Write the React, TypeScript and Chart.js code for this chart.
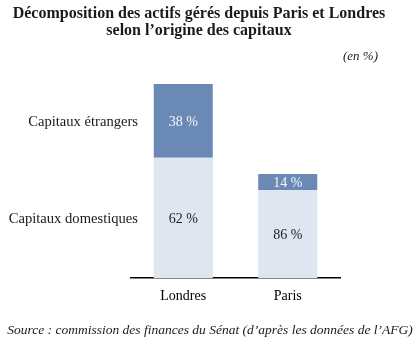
import React, { useEffect, useRef } from "react";
import { Chart, registerables } from "chart.js";

Chart.register(...registerables);

const categories = ["Londres", "Paris"];
// bar heights (relative size of assets, Londres = 100)
const domesticValues = [62, 45.4];
const foreignValues = [38, 8.2];
// shares shown in labels
const domesticLabels = ["62 %", "86 %"];
const foreignLabels = ["38 %", "14 %"];
const seriesNames = ["Capitaux domestiques", "Capitaux étrangers"];
const titleLines = ["Décomposition des actifs gérés depuis Paris et Londres", "selon l’origine des capitaux"];
const unitText = "(en %)";
const sourceText = "Source : commission des finances du Sénat (d’après les données de l’AFG)";

const FONT = "'Liberation Serif', 'DejaVu Serif', serif";

const textPlugin = {
  id: "textPlugin",
  afterDraw(chart: any) {
    const ctx = chart.ctx;
    ctx.save();
    // title
    ctx.fillStyle = "#1a1a1a";
    ctx.textAlign = "center";
    ctx.textBaseline = "middle";
    ctx.font = `bold 16px ${FONT}`;
    ctx.fillText(titleLines[0], 199, 14);
    ctx.fillText(titleLines[1], 199, 31);
    // unit
    ctx.font = `italic 13px ${FONT}`;
    ctx.textAlign = "right";
    ctx.fillText(unitText, 378, 57);
    // source
    ctx.textAlign = "center";
    ctx.font = `italic 13.5px ${FONT}`;
    ctx.fillText(sourceText, 210, 330);

    // segment labels
    const metaDom = chart.getDatasetMeta(0);
    const metaFor = chart.getDatasetMeta(1);
    ctx.font = `14px ${FONT}`;
    ctx.textAlign = "center";
    metaDom.data.forEach((el: any, i: number) => {
      ctx.fillStyle = "#222";
      ctx.fillText(domesticLabels[i], el.x, (el.y + el.base) / 2 + 1);
    });
    metaFor.data.forEach((el: any, i: number) => {
      ctx.fillStyle = "#f2f5fa";
      ctx.fillText(foreignLabels[i], el.x, (el.y + el.base) / 2 + 1);
    });
    // series labels next to first bar
    ctx.fillStyle = "#1a1a1a";
    ctx.textAlign = "right";
    ctx.font = `14.6px ${FONT}`;
    const d0 = metaDom.data[0];
    const f0 = metaFor.data[0];
    ctx.fillText(seriesNames[1], 138, (f0.y + f0.base) / 2 + 1);
    ctx.fillText(seriesNames[0], 138, (d0.y + d0.base) / 2 + 1);
    ctx.restore();
  },
};

export default function App() {
  const ref = useRef<HTMLCanvasElement>(null);
  useEffect(() => {
    if (!ref.current) return;
    const chart = new Chart(ref.current, {
      type: "bar",
      data: {
        labels: categories,
        datasets: [
          {
            label: seriesNames[0],
            data: domesticValues,
            backgroundColor: "#dfe6f0",
            borderWidth: 0,
          },
          {
            label: seriesNames[1],
            data: foreignValues,
            backgroundColor: "#6a8ab5",
            borderWidth: 0,
          },
        ],
      },
      options: {
        animation: false,
        responsive: false,
        maintainAspectRatio: false,
        layout: { padding: { top: 84, left: 131, right: 74, bottom: 29 } },
        datasets: { bar: { categoryPercentage: 1, barPercentage: 0.565 } },
        plugins: {
          legend: { display: false },
          title: { display: false },
          tooltip: { enabled: false },
        },
        scales: {
          x: {
            stacked: true,
            grid: { display: false, drawTicks: false },
            border: { display: true, color: "#000", width: 1.5 },
            ticks: { color: "#000", font: { family: FONT, size: 14 }, padding: 10 },
          },
          y: {
            stacked: true,
            display: false,
            min: 0,
            max: 100,
          },
        },
      },
      plugins: [textPlugin],
    });
    return () => chart.destroy();
  }, []);
  return (
    <div style={{ position: "absolute", left: 0, top: 0, width: 414, height: 344, background: "#fff" }}>
      <canvas ref={ref} width={414} height={344} style={{ display: "block" }} />
    </div>
  );
}
